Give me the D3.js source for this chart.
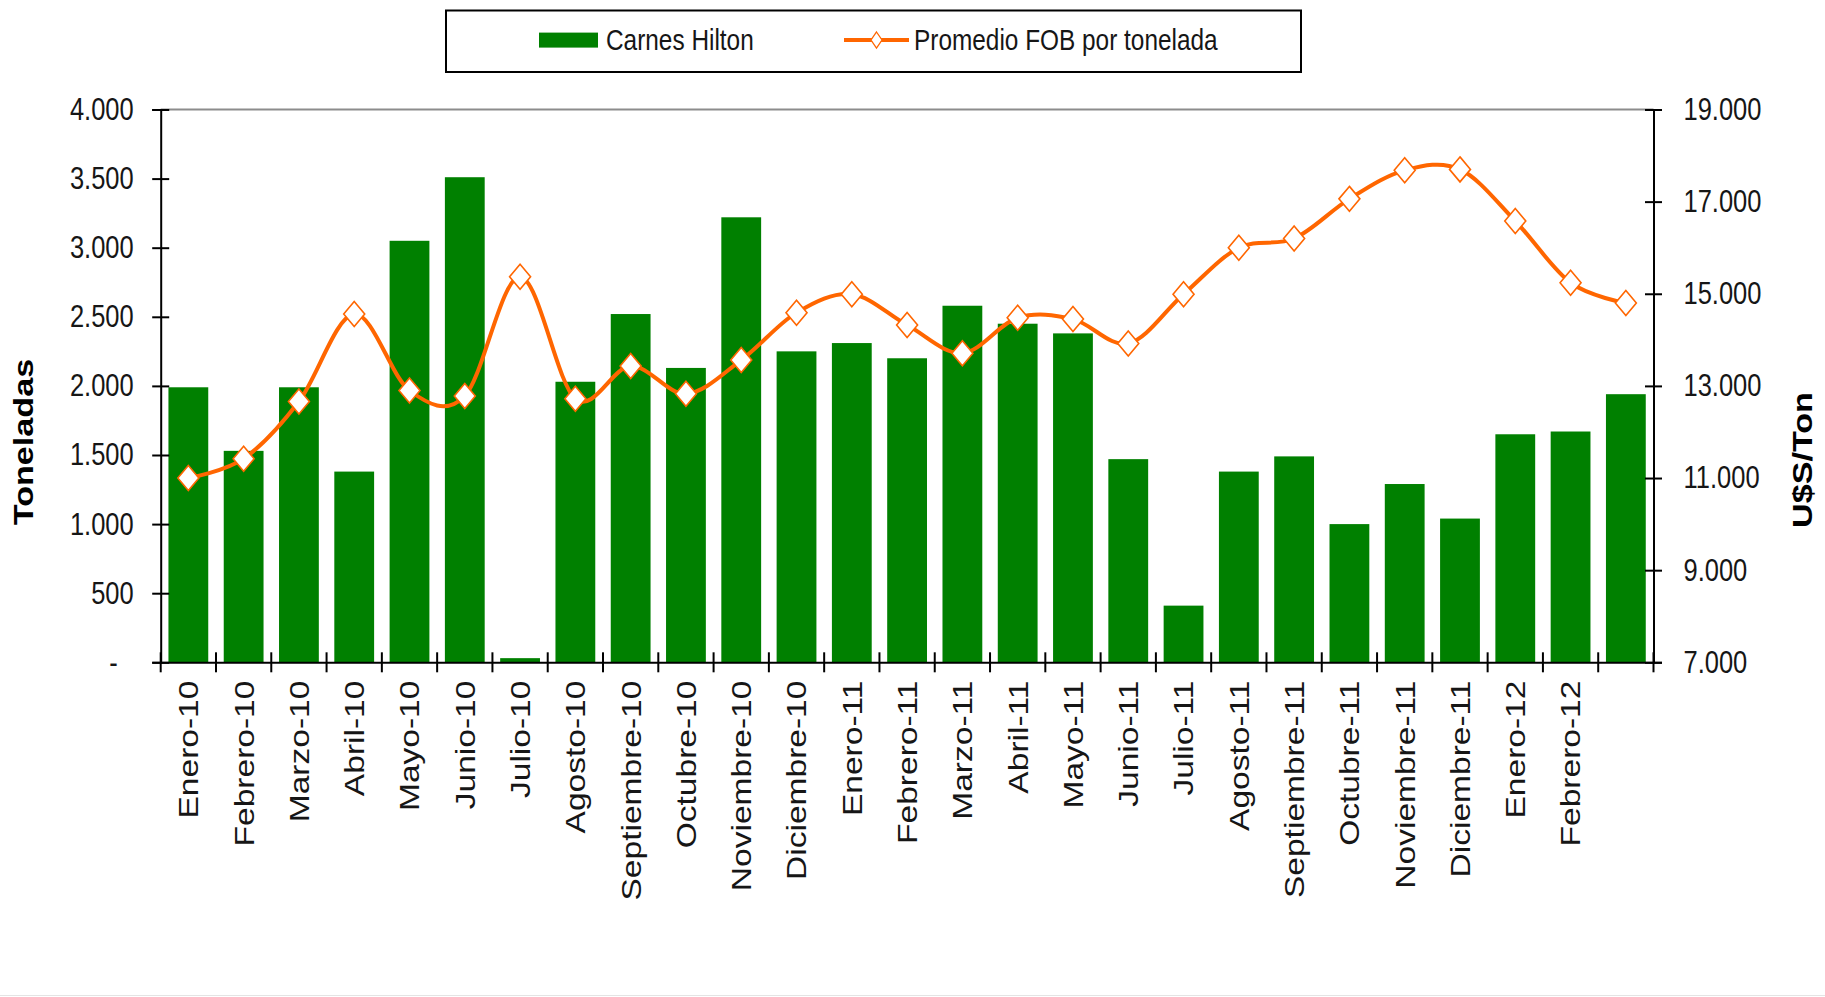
<!DOCTYPE html>
<html>
<head>
<meta charset="utf-8">
<script src="https://cdn.jsdelivr.net/npm/d3@7"></script>
<style>
    body { margin: 0; background: #fff; }
    svg { font-family: "Liberation Sans", Arial, sans-serif; display: block; }
</style>
</head>
<body>
<div id="graph1"></div>
<script>
// data
let months = ["Enero-10", "Febrero-10", "Marzo-10", "Abril-10", "Mayo-10", "Junio-10",
    "Julio-10", "Agosto-10", "Septiembre-10", "Octubre-10", "Noviembre-10", "Diciembre-10",
    "Enero-11", "Febrero-11", "Marzo-11", "Abril-11", "Mayo-11", "Junio-11",
    "Julio-11", "Agosto-11", "Septiembre-11", "Octubre-11", "Noviembre-11", "Diciembre-11",
    "Enero-12", "Febrero-12", ""];
let toneladas = [1990, 1530, 1990, 1380, 3050, 3510, 30, 2030, 2520, 2130, 3220, 2250,
    2310, 2200, 2580, 2450, 2380, 1470, 410, 1380, 1490, 1000, 1290, 1040, 1650, 1670, 1940];
let fobPromedio = [11000, 11420, 12660, 14560, 12900, 12780, 15370, 12720, 13430, 12830, 13560, 14590,
    14990, 14320, 13710, 14480, 14450, 13920, 14990, 16000, 16200, 17060, 17680, 17700, 16580, 15240, 14800];
let leftTicks = [0, 500, 1000, 1500, 2000, 2500, 3000, 3500, 4000];
let rightTicks = [7000, 9000, 11000, 13000, 15000, 17000, 19000];
let seriesNames = ["Carnes Hilton", "Promedio FOB por tonelada"];
let axisTitles = ["Toneladas", "U$S/Ton"];

let width = 1825, height = 997;
let margin = {top: 109.5, right: 171.5, bottom: 334.7, left: 160.7};
let innerW = width - margin.left - margin.right;
let innerH = height - margin.top - margin.bottom;
let stretch = 1.22;   // the source picture is taller than wide, text looks condensed
let green = "#008000", orange = "#ff6600";

let locale = d3.formatLocale({decimal: ",", thousands: ".", grouping: [3], currency: ["$", ""]});
let fmt = locale.format(",");

let data = months.map(function(m, i) { return {m: m, t: toneladas[i], p: fobPromedio[i]}; });

let svg = d3.select("#graph1")
    .append("svg")
    .attr("width", width)
    .attr("height", height);

svg.append("line")
    .attr("x1", 0).attr("x2", width)
    .attr("y1", height - 1.5).attr("y2", height - 1.5)
    .attr("stroke", "#e4e4e4").attr("stroke-width", 1);

let g = svg.append("g")
    .attr("transform", "translate(" + margin.left + "," + margin.top + ")");

let x = d3.scaleBand()
    .domain(months)
    .range([0, innerW])
    .paddingInner(0.28)
    .paddingOuter(0.14);

let yL = d3.scaleLinear().domain([0, 4000]).range([innerH, 0]);
let yR = d3.scaleLinear().domain([7000, 19000]).range([innerH, 0]);

function cx(d) { return x(d.m) + x.bandwidth() / 2; }

// top border of the plot area
g.append("line")
    .attr("x1", 0).attr("x2", innerW)
    .attr("y1", yL(4000)).attr("y2", yL(4000))
    .attr("stroke", "#8c8c8c").attr("stroke-width", 2);

// bars
g.append("g").selectAll("rect").data(data)
    .enter()
    .append("rect")
    .attr("x", function(d) { return x(d.m); })
    .attr("y", function(d) { return yL(d.t); })
    .attr("width", x.bandwidth())
    .attr("height", function(d) { return innerH - yL(d.t); })
    .attr("fill", green);

// smoothed line
let line = d3.line()
    .x(cx)
    .y(function(d) { return yR(d.p); })
    .curve(d3.curveCatmullRom.alpha(0));

g.append("path")
    .datum(data)
    .attr("d", line)
    .attr("fill", "none")
    .attr("stroke", orange)
    .attr("stroke-width", 4)
    .attr("stroke-linejoin", "round");

function diamond(w, h) {
    return "M0," + (-h) + "L" + w + ",0L0," + h + "L" + (-w) + ",0Z";
}

g.append("g").selectAll("path").data(data)
    .enter()
    .append("path")
    .attr("transform", function(d) { return "translate(" + cx(d) + "," + yR(d.p) + ")"; })
    .attr("d", diamond(10.5, 12.5))
    .attr("fill", "#fff")
    .attr("stroke", orange)
    .attr("stroke-width", 1.6);

// axes
function styleAxis(sel) {
    sel.select(".domain").attr("stroke", "#000").attr("stroke-width", 2);
    sel.selectAll(".tick line").attr("stroke", "#000").attr("stroke-width", 2);
}

let leftAxis = g.append("g")
    .call(d3.axisLeft(yL).tickValues(leftTicks).tickSizeOuter(0).tickSize(8.5).tickPadding(18)
        .tickFormat(function(d) { return d === 0 ? "-" : fmt(d); }));
styleAxis(leftAxis);
leftAxis.selectAll(".tick line").attr("x2", 8.5).attr("x1", -8.5);
leftAxis.selectAll(".tick text")
    .attr("fill", "#161616")
    .style("font-size", "25.5px")
    .attr("transform", "scale(1," + stretch + ")")
    .attr("x", function(d) { return d === 0 ? -43 : -27; });

let rightAxis = g.append("g")
    .attr("transform", "translate(" + innerW + ",0)")
    .call(d3.axisRight(yR).tickValues(rightTicks).tickSizeOuter(0).tickSize(8.5).tickPadding(20)
        .tickFormat(fmt));
styleAxis(rightAxis);
rightAxis.selectAll(".tick line").attr("x2", 8.5).attr("x1", -8.5);
rightAxis.selectAll(".tick text")
    .attr("fill", "#161616")
    .style("font-size", "25.5px")
    .attr("transform", "scale(1," + stretch + ")")
    .attr("x", 30);

let bottomAxis = g.append("g")
    .attr("transform", "translate(0," + innerH + ")")
    .call(d3.axisBottom(x).tickSize(0).tickSizeOuter(0));
styleAxis(bottomAxis);
bottomAxis.selectAll(".tick text")
    .attr("fill", "#161616")
    .style("font-size", "27.5px")
    .style("text-anchor", "end")
    .attr("x", -15)
    .attr("y", 0)
    .attr("dy", "0.36em")
    .attr("transform", "scale(1," + stretch + ") rotate(-90)");

// ticks between the months
bottomAxis.append("g").selectAll("line").data(d3.range(months.length + 1))
    .enter()
    .append("line")
    .attr("x1", function(i) { return x.range()[0] + i * x.step(); })
    .attr("x2", function(i) { return x.range()[0] + i * x.step(); })
    .attr("y1", -10).attr("y2", 10)
    .attr("stroke", "#000").attr("stroke-width", 2);

// axis titles
svg.append("text")
    .attr("transform", "translate(23,442) scale(1," + stretch + ") rotate(-90)")
    .attr("dy", "0.35em")
    .style("text-anchor", "middle")
    .style("font-size", "28px")
    .style("font-weight", "bold")
    .text(axisTitles[0]);

svg.append("text")
    .attr("transform", "translate(1802,460) scale(1," + stretch + ") rotate(-90)")
    .attr("dy", "0.35em")
    .style("text-anchor", "middle")
    .style("font-size", "28px")
    .style("font-weight", "bold")
    .text(axisTitles[1]);

// legend
let legend = svg.append("g");
legend.append("rect")
    .attr("x", 446).attr("y", 10.5)
    .attr("width", 855).attr("height", 61.5)
    .attr("fill", "#fff")
    .attr("stroke", "#000").attr("stroke-width", 2);

legend.append("rect")
    .attr("x", 539).attr("y", 32.6)
    .attr("width", 59).attr("height", 15)
    .attr("fill", green);

legend.append("line")
    .attr("x1", 844).attr("x2", 909)
    .attr("y1", 40).attr("y2", 40)
    .attr("stroke", orange).attr("stroke-width", 4);

legend.append("path")
    .attr("transform", "translate(876.5,40)")
    .attr("d", diamond(5.5, 8))
    .attr("fill", "#fff")
    .attr("stroke", orange)
    .attr("stroke-width", 1.3);

legend.selectAll("text").data(seriesNames)
    .enter()
    .append("text")
    .attr("transform", function(d, i) {
        return "translate(" + (i === 0 ? 606 : 914) + ",40) scale(1," + stretch + ")";
    })
    .attr("dy", "0.35em")
    .attr("fill", "#161616")
    .style("font-size", "24.4px")
    .text(function(d) { return d; });
</script>
</body>
</html>
